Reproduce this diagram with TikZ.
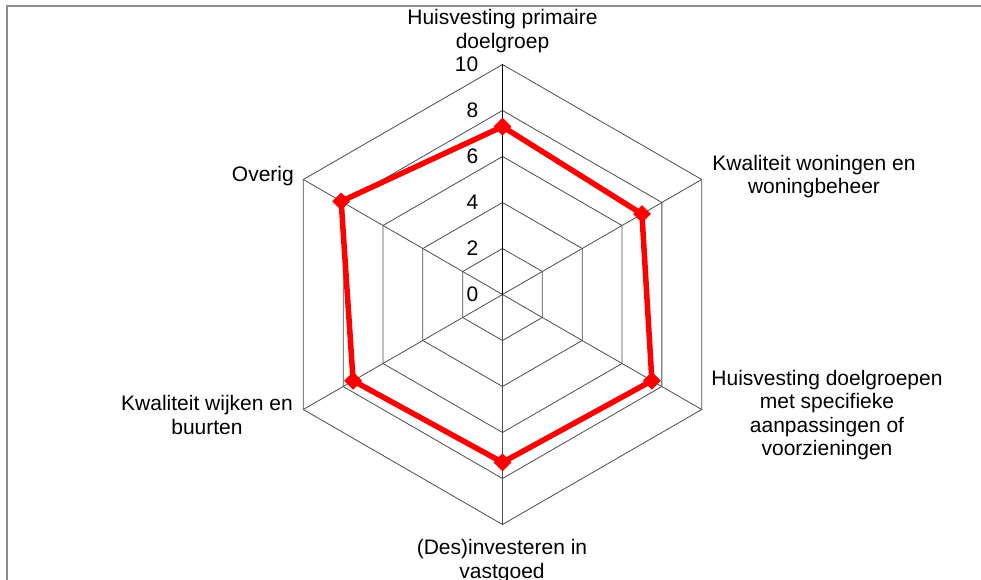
\documentclass[tikz,border=0pt]{standalone}
\usepackage{fontspec}
\setmainfont{Liberation Sans}
\usetikzlibrary{positioning,shapes.geometric}

\begin{document}
\begin{tikzpicture}[x=1pt,y=1pt,
grid/.style={draw=black!70,line width=0.8pt},
axisline/.style={draw=black,line width=1.1pt},
catlabel/.style={font=\fontsize{21}{23.6}\selectfont,align=center,inner sep=0pt},
ticklabel/.style={font=\fontsize{21}{23.6}\selectfont,anchor=east,inner sep=0pt},
marker/.style={diamond,fill=red,inner sep=0pt,minimum size=18pt},
series/.style={draw=red,line width=5.5pt,line join=round}
]

\tikzstyle{frame} = [draw=black!45,line width=2.2pt]

  \useasboundingbox (0,0) rectangle (981,-580);
  \draw[frame] (7,-590) -- (7,-6) -- (990,-6);

  \coordinate (centre) at (502.5,-294.5);

\begin{scope}[shift={(centre)}]
  % rings and spokes
  \foreach \r in {2,4,...,10}
    \draw[grid] (90:23*\r) -- (30:23*\r) -- (-30:23*\r) -- (-90:23*\r)
                -- (-150:23*\r) -- (150:23*\r) -- cycle;
  \foreach \a in {30,-30,-90,-150,150}
    \draw[grid] (0,0) -- (\a:230);
  \draw[axisline] (0,0) -- (90:230);

  % value axis
  \foreach \r in {0,2,...,10}
    \node (tick\r) [ticklabel] at (-24,23*\r) {\r};

  % data
  \node (val1) [marker] at (90:23*7.3)   {};
  \node (val2) [marker] at (30:23*7.0)   {};
  \node (val3) [marker] at (-30:23*7.5)  {};
  \node (val4) [marker] at (-90:23*7.3)  {};
  \node (val5) [marker] at (-150:23*7.5) {};
  \node (val6) [marker] at (150:23*8.1)  {};
\end{scope}

\path[series] (val1.center) -- (val2.center) -- (val3.center) -- (val4.center)
              -- (val5.center) -- (val6.center) -- cycle;

  % categories
  \node (cat1) [catlabel,anchor=south] at (502.5,-53) {Huisvesting primaire\\doelgroep};
  \node (cat2) [catlabel] at (814,-176.5) {Kwaliteit woningen en\\woningbeheer};
  \node (cat3) [catlabel] at (827,-415) {Huisvesting doelgroepen\\met specifieke\\aanpassingen of\\voorzieningen};
  \node (cat4) [catlabel,anchor=north] at (502,-539) {(Des)investeren in\\vastgoed};
  \node (cat5) [catlabel] at (207,-415) {Kwaliteit wijken en\\buurten};
  \node (cat6) [catlabel,anchor=east] at (294,-176) {Overig};

\end{tikzpicture}
\end{document}
